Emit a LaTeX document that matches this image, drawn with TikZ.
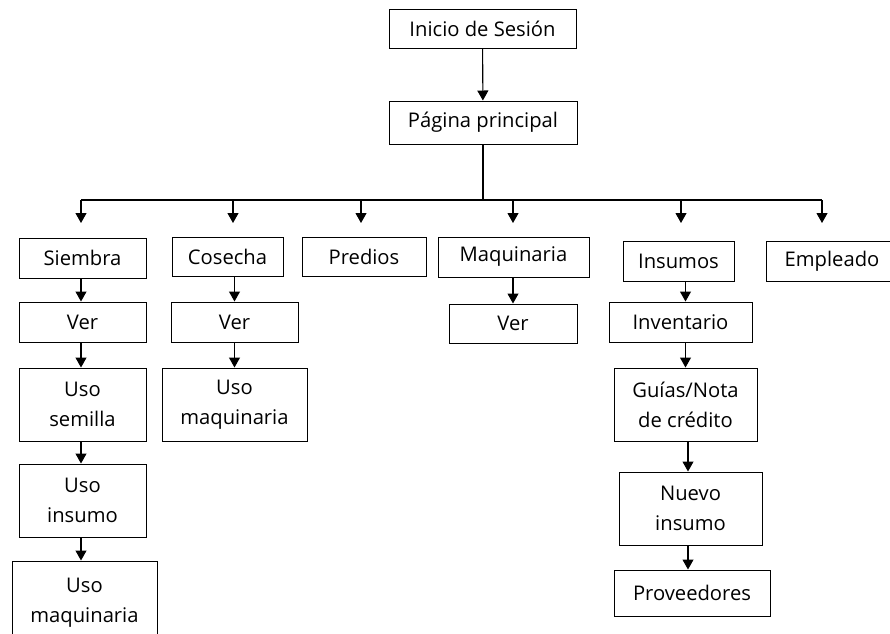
\documentclass[tikz,border=0pt]{standalone}
\usepackage{fontspec}
\setmainfont{Open Sans}
\usepackage{tikz}
\usetikzlibrary{arrows.meta,positioning,calc}

\begin{document}
\begin{tikzpicture}[x=1pt,y=-1pt,
  font=\fontsize{20.2}{30}\selectfont,
  bx/.style={draw,line width=1pt,align=center,inner sep=0pt,fill=white},
  arr/.style={-{Triangle[length=10pt,width=11pt]},line width=1.1pt}]
\useasboundingbox (0,0) rectangle (890,633);
% top of the tree
\node[bx,minimum width=187,minimum height=39] (ini) at (482.5,28.5) {Inicio de Sesi\'on};
\node[bx,minimum width=188,minimum height=43] (pag) at (483,122.5) {P\'agina principal};
% first level
\node[bx,minimum width=127,minimum height=40] (siem) at (82.5,258) {Siembra};
\node[bx,minimum width=111,minimum height=39] (cos) at (227.5,256.5) {Cosecha};
\node[bx,minimum width=124,minimum height=39] (pred) at (364,256.5) {Predios};
\node[bx,minimum width=151,minimum height=40] (maq) at (513.5,257) {Maquinaria};
\node[bx,minimum width=111,minimum height=40] (ins) at (678.5,261) {Insumos};
\node[bx,minimum width=132,minimum height=40] (emp) at (832,261) {Empleado};
% second level
\node[bx,minimum width=127,minimum height=40] (siemver) at (82.5,322) {Ver};
\node[bx,minimum width=127,minimum height=40] (cosver) at (234.5,322) {Ver};
\node[bx,minimum width=128,minimum height=39] (maqver) at (513,323.5) {Ver};
\node[bx,minimum width=143,minimum height=40] (inv) at (680.5,322) {Inventario};
% lower levels
\node[bx,minimum width=127,minimum height=73] (usosem) at (82.5,404.5) {Uso\\semilla};
\node[bx,minimum width=145,minimum height=73] (usomaqc) at (234.5,404.5) {Uso\\maquinaria};
\node[bx,minimum width=143,minimum height=73] (guias) at (685.5,404.5) {Gu\'ias/Nota\\de cr\'edito};
\node[bx,minimum width=127,minimum height=73] (usoins) at (82.5,500.5) {Uso\\insumo};
\node[bx,minimum width=143,minimum height=73] (nuevo) at (690.5,508.5) {Nuevo\\insumo};
\node[bx,minimum width=145,minimum height=84] (usomaqs) at (84.5,603) {Uso\\maquinaria};
\node[bx,minimum width=156,minimum height=46] (prov) at (692,593) {Proveedores};

\draw[arr] (ini) -- (pag);
\coordinate (bl) at (81,200);
\coordinate (br) at (822,200);
\coordinate (tips) at (0,223);
\draw[line width=1.1pt] (pag.south) -- (pag.south |- bl);
\draw[line width=1.1pt] (bl) -- (br);
\foreach \n/\x in {siem/81,cos/233,pred/361,maq/513,ins/681,emp/822}{
  \coordinate (k\n) at (\x,200);
  \draw[arr] (k\n) -- (k\n |- tips);
}
% columns
\draw[arr] ([xshift=-1.5pt]siem.south) -- ([xshift=-1.5pt]siemver.north);
\draw[arr] ([xshift=-1.5pt]siemver.south) -- ([xshift=-1.5pt]usosem.north);
\draw[arr] ([xshift=-1.5pt]usosem.south) -- ([xshift=-1.5pt]usoins.north);
\draw[arr] ([xshift=-1.5pt]usoins.south) -- ([xshift=-1.5pt]usoins.south |- usomaqs.north);
\draw[arr] (cosver.north |- cos.south) -- (cosver.north);
\draw[arr] (cosver.south) -- (usomaqc.north);
\draw[arr] (maqver.north |- maq.south) -- (maqver.north);
\draw[arr] (guias.north |- ins.south) -- (guias.north |- inv.north);
\draw[arr] (guias.north |- inv.south) -- (guias.north);
\draw[arr] ([xshift=2.5pt]guias.south) -- ([xshift=2.5pt]guias.south |- nuevo.north);
\draw[arr] ([xshift=-2.5pt]nuevo.south) -- ([xshift=-2.5pt]nuevo.south |- prov.north);
\end{tikzpicture}
\end{document}
